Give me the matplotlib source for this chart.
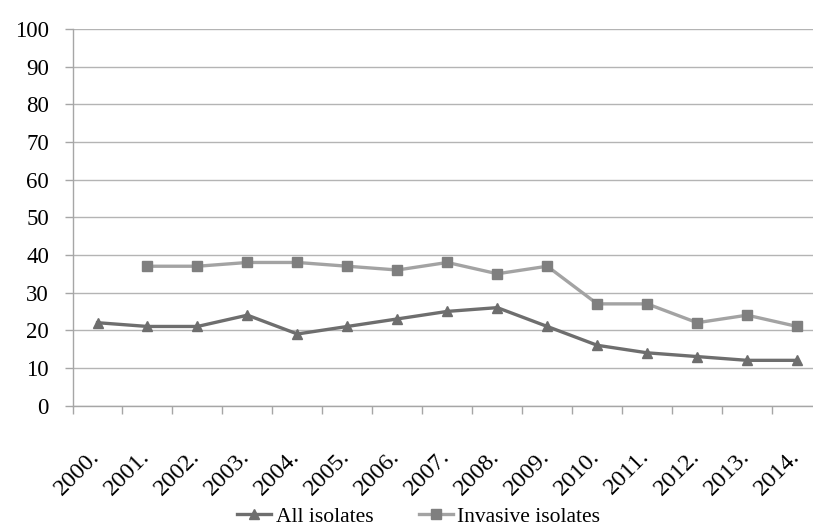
import matplotlib.pyplot as plt
import matplotlib.transforms as mtransforms
import numpy as np

years = ['2000.', '2001.', '2002.', '2003.', '2004.', '2005.', '2006.', '2007.',
         '2008.', '2009.', '2010.', '2011.', '2012.', '2013.', '2014.']
all_isolates = [22, 21, 21, 24, 19, 21, 23, 25, 26, 21, 16, 14, 13, 12, 12]
invasive_isolates = [np.nan, 37, 37, 38, 38, 37, 36, 38, 35, 37, 27, 27, 22, 24, 21]

plt.rcParams['font.family'] = ['Liberation Serif', 'DejaVu Serif']

fig = plt.figure(figsize=(8.13, 5.25), dpi=100)
ax = fig.add_axes([0.0892, 0.2276, 0.922, 0.717])

x = np.arange(len(years))
ax.plot(x, all_isolates, color='#6e6e6e', lw=2.4, marker='^', ms=7.5,
        mfc='#6e6e6e', mec='#6e6e6e', label='All isolates', zorder=3)
ax.plot(x, invasive_isolates, color='#a3a3a3', lw=2.4, marker='s', ms=7,
        mfc='#7f7f7f', mec='#7f7f7f', label='Invasive isolates', zorder=3)

ax.set_ylim(0, 100)
ax.set_xlim(-0.5, 14.5)
ax.set_yticks(range(0, 101, 10))
ax.yaxis.grid(True, color='#b4b4b4', lw=1)
ax.set_axisbelow(True)

ax.set_xticks(x)
ax.set_xticklabels(years, rotation=45, ha='right', rotation_mode='anchor')
ax.set_xticks(np.arange(-0.5, 15, 1), minor=True)
ax.tick_params(axis='x', which='major', length=0, labelsize=17.5, pad=10)
ax.tick_params(axis='x', which='minor', length=6, color='#a6a6a6', width=1)
ax.tick_params(axis='y', length=6, color='#a6a6a6', width=1, labelsize=16.5, pad=11)

# nudge the rotated year labels down and left
shift = mtransforms.ScaledTranslation(-6 / 72, -19 / 72, fig.dpi_scale_trans)
for lbl in ax.get_xticklabels():
    lbl.set_transform(lbl.get_transform() + shift)

for side in ['top', 'right']:
    ax.spines[side].set_visible(False)
for side in ['left', 'bottom']:
    ax.spines[side].set_color('#a6a6a6')
    ax.spines[side].set_linewidth(1)

fig.legend(loc='lower center', bbox_to_anchor=(0.515, -0.04), ncol=2, frameon=False,
           fontsize=15.5, handlelength=1.6, handletextpad=0.2, columnspacing=2.1)

fig.savefig('out.png', dpi=100)
